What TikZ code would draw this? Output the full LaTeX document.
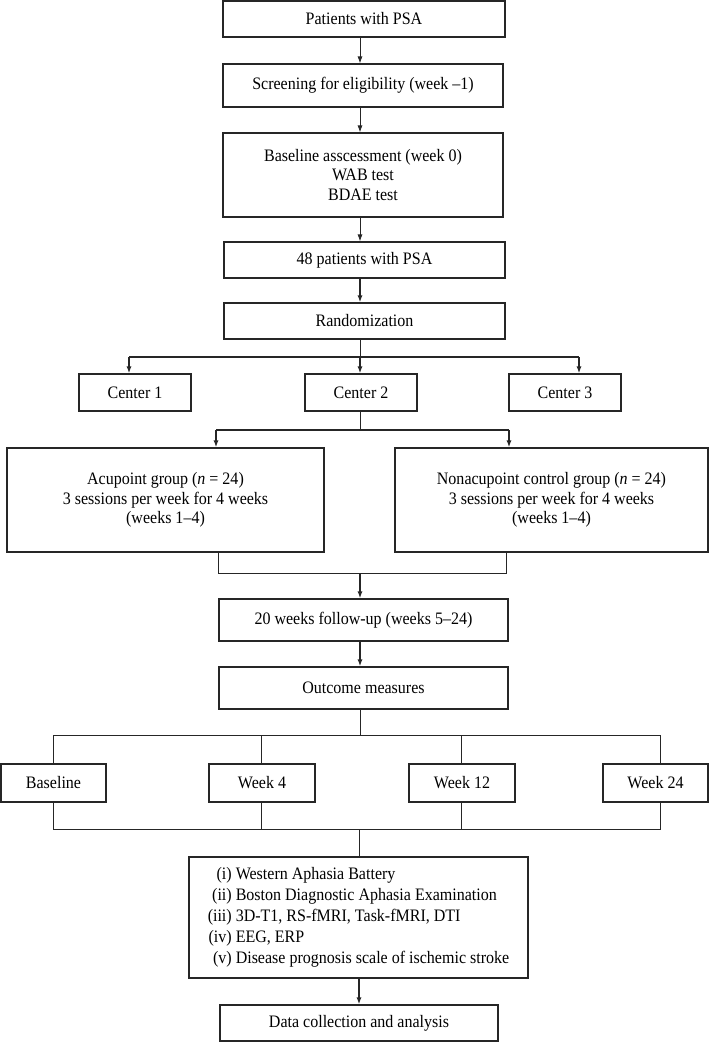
\documentclass[tikz,border=0pt]{standalone}
\usepackage{fontspec}
\setmainfont{Liberation Serif}[FakeStretch=0.915]
\usetikzlibrary{arrows.meta}
\begin{document}
\begin{tikzpicture}[x=1pt,y=-1pt,
  box/.style={draw=black!85, line width=1.1pt, inner sep=0pt, align=center,
    font=\fontsize{17.5}{19.5}\selectfont},
  lnA/.style={draw=black!85, line width=0.9pt},
  lnB/.style={draw=black!85, line width=1.5pt},
  arrA/.style={lnA, -{Latex[length=7pt,width=5pt]}},
  arrB/.style={lnB, -{Latex[length=7pt,width=5pt]}}
]
\useasboundingbox (0,0) rectangle (710,1042);

% boxes
\node[box, minimum width=282pt, minimum height=36pt] (p1) at (364,19) {Patients with PSA};
\node[box, minimum width=280pt, minimum height=43pt] (p2) at (363,85.5) {Screening for eligibility (week –1)};
\node[box, minimum width=280pt, minimum height=84pt] (p3) at (363,175) {Baseline asscessment (week 0)\\WAB test\\BDAE test};
\node[box, minimum width=281pt, minimum height=36pt] (p4) at (364.5,260) {48 patients with PSA};
\node[box, minimum width=281pt, minimum height=36pt] (p5) at (364.5,321) {Randomization};
\node[box, minimum width=112pt, minimum height=37pt] (c1) at (135,392.5) {Center 1};
\node[box, minimum width=112pt, minimum height=37pt] (c2) at (361,392.5) {Center 2};
\node[box, minimum width=112pt, minimum height=37pt] (c3) at (565,392.5) {Center 3};
\node[box, minimum width=317pt, minimum height=104pt] (g1) at (165.5,500) {Acupoint group (\textit{n} = 24)\\3 sessions per week for 4 weeks\\(weeks 1–4)};
\node[box, minimum width=313pt, minimum height=104pt] (g2) at (551.5,500) {Nonacupoint control group (\textit{n} = 24)\\3 sessions per week for 4 weeks\\(weeks 1–4)};
\node[box, minimum width=289pt, minimum height=42pt] (f1) at (363.5,620) {20 weeks follow-up (weeks 5–24)};
\node[box, minimum width=289pt, minimum height=42pt] (o1) at (363.5,688) {Outcome measures};
\node[box, minimum width=105pt, minimum height=38pt] (w0) at (53.5,783) {Baseline};
\node[box, minimum width=106pt, minimum height=38pt] (w4) at (262,783) {Week 4};
\node[box, minimum width=106pt, minimum height=38pt] (w12) at (462,783) {Week 12};
\node[box, minimum width=105pt, minimum height=38pt] (w24) at (655.5,783) {Week 24};
\node[box, minimum width=339pt, minimum height=121pt, font=\fontsize{17.5}{21}\selectfont] (l1) at (358.5,917.5)
  {\begin{tabular}{@{}r@{\hspace{4pt}}l@{}}
   (i) & Western Aphasia Battery\\
   (ii) & Boston Diagnostic Aphasia Examination\\
   (iii) & 3D-T1, RS-fMRI, Task-fMRI, DTI\\
   (iv) & EEG, ERP\\
   (v) & Disease prognosis scale of ischemic stroke
   \end{tabular}};
\node[box, minimum width=278pt, minimum height=36pt] (d1) at (359,1023) {Data collection and analysis};

% helper coordinates
\coordinate (ax) at (360,0);
\coordinate (br1) at (360,357);
\coordinate (br2) at (360,430);
\coordinate (g1t) at (216,430);
\coordinate (g2t) at (509,430);
\coordinate (m1) at (218,573);
\coordinate (m2) at (506,573);
\coordinate (h1) at (360,735);
\coordinate (h2) at (359,829);
\coordinate (x24) at (660,0);

% connectors
\draw[arrA] (ax |- p1.south) -- (ax |- p2.north);
\draw[arrA] (ax |- p2.south) -- (ax |- p3.north);
\draw[arrA] (ax |- p3.south) -- (ax |- p4.north);
\draw[arrB] (ax |- p4.south) -- (ax |- p5.north);

\draw[lnA] (ax |- p5.south) -- (br1);
\draw[lnB] ([xshift=-6pt]c1.north |- br1) -- ([xshift=14pt]c3.north |- br1);
\draw[arrB] ([xshift=-6pt]c1.north |- br1) -- ([xshift=-6pt]c1.north);
\draw[arrB] (br1) -- (ax |- c2.north);
\draw[arrB] ([xshift=14pt]c3.north |- br1) -- ([xshift=14pt]c3.north);

\draw[lnA] (ax |- c2.south) -- (br2);
\draw[lnB] (g1t) -- (g2t);
\draw[arrB] (g1t) -- (g1t |- g1.north);
\draw[arrB] (g2t) -- (g2t |- g2.north);

\draw[lnA] (m1 |- g1.south) -- (m1) -- (m2) -- (m2 |- g2.south);
\draw[arrB] (ax |- m1) -- (ax |- f1.north);
\draw[arrB] (ax |- f1.south) -- (ax |- o1.north);

\draw[lnA] (ax |- o1.south) -- (h1);
\draw[lnA] (w0.north |- h1) -- (x24 |- h1);
\draw[lnA] (w0.north |- h1) -- (w0.north);
\draw[lnA] ([xshift=-1pt]w4.north |- h1) -- ([xshift=-1pt]w4.north);
\draw[lnA] ([xshift=-1pt]w12.north |- h1) -- ([xshift=-1pt]w12.north);
\draw[lnA] (x24 |- h1) -- (x24 |- w24.north);

\draw[lnA] (w0.south) -- (w0.south |- h2) -- (x24 |- h2) -- (x24 |- w24.south);
\draw[lnA] ([xshift=-1pt]w4.south) -- ([xshift=-1pt]w4.south |- h2);
\draw[lnA] ([xshift=-1pt]w12.south) -- ([xshift=-1pt]w12.south |- h2);
\draw[lnA] (h2) -- (h2 |- l1.north);
\draw[arrB] (h2 |- l1.south) -- (h2 |- d1.north);
\end{tikzpicture}
\end{document}
